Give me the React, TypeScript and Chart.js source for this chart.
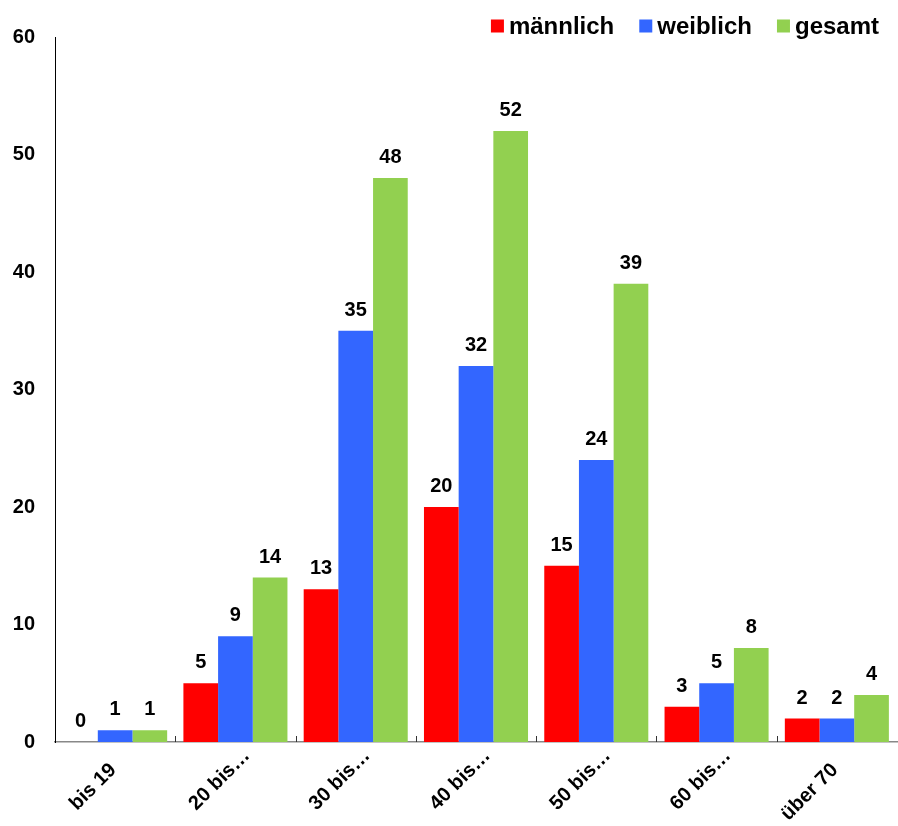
import React, { useEffect, useRef } from "react";
import { Chart, registerables } from "chart.js";

Chart.register(...registerables);

const categories = ["bis 19", "20 bis…", "30 bis…", "40 bis…", "50 bis…", "60 bis…", "über 70"];
const maennlich = [0, 5, 13, 20, 15, 3, 2];
const weiblich = [1, 9, 35, 32, 24, 5, 2];
const gesamt = [1, 14, 48, 52, 39, 8, 4];
const seriesNames = ["männlich", "weiblich", "gesamt"];
const seriesColors = ["#FF0000", "#3366FF", "#92D050"];
const yMin = 0;
const yMax = 60;
const yStep = 10;

const FONT = '"Liberation Sans", Arial, Helvetica, sans-serif';

const valueLabelPlugin = {
  id: "valueLabels",
  afterDatasetsDraw(chart: any) {
    const ctx = chart.ctx;
    ctx.save();
    ctx.font = `bold 20px ${FONT}`;
    ctx.fillStyle = "#000";
    ctx.textAlign = "center";
    ctx.textBaseline = "alphabetic";
    chart.data.datasets.forEach((ds: any, di: number) => {
      const meta = chart.getDatasetMeta(di);
      meta.data.forEach((bar: any, i: number) => {
        ctx.fillText(String(ds.data[i]), bar.x, bar.y - 15);
      });
    });
    ctx.restore();
  },
};

const xAxisPlugin = {
  id: "xAxisDecor",
  afterDraw(chart: any) {
    const ctx = chart.ctx;
    const xs = chart.scales.x;
    const bottom = chart.chartArea.bottom;
    ctx.save();
    ctx.strokeStyle = "#333";
    ctx.lineWidth = 1;
    for (let i = 1; i < categories.length; i++) {
      const bx = Math.round((xs.getPixelForValue(i - 1) + xs.getPixelForValue(i)) / 2) + 0.5;
      ctx.beginPath();
      ctx.moveTo(bx, bottom - 6);
      ctx.lineTo(bx, bottom);
      ctx.stroke();
    }
    ctx.font = `bold 20px ${FONT}`;
    ctx.fillStyle = "#000";
    ctx.textBaseline = "middle";
    categories.forEach((lab, i) => {
      const tx = xs.getPixelForValue(i);
      const truncated = lab.endsWith("…");
      ctx.save();
      if (truncated) {
        ctx.translate(tx - 43, bottom + 65);
        ctx.textAlign = "left";
      } else {
        ctx.translate(tx - 2, bottom + 25);
        ctx.textAlign = "right";
      }
      ctx.rotate(-Math.PI / 4);
      ctx.fillText(lab, 0, 0);
      ctx.restore();
    });
    ctx.restore();
  },
};

const legendPlugin = {
  id: "customLegend",
  afterDraw(chart: any) {
    const ctx = chart.ctx;
    ctx.save();
    ctx.font = `bold 24px ${FONT}`;
    ctx.textBaseline = "middle";
    ctx.textAlign = "left";
    const box = 13;
    const gapBoxText = 5;
    const gapItems = 25;
    const rightEnd = 879;
    const cy = 26;
    const widths = seriesNames.map((n) => ctx.measureText(n).width);
    let total = 0;
    widths.forEach((w, i) => {
      total += box + gapBoxText + w + (i < widths.length - 1 ? gapItems : 0);
    });
    let x = rightEnd - total;
    seriesNames.forEach((n, i) => {
      ctx.fillStyle = seriesColors[i];
      ctx.fillRect(x, cy - 6.5, box, box);
      x += box + gapBoxText;
      ctx.fillStyle = "#000";
      ctx.fillText(n, x, cy + 1);
      x += widths[i] + gapItems;
    });
    ctx.restore();
  },
};

export default function App() {
  const canvasRef = useRef<HTMLCanvasElement | null>(null);

  useEffect(() => {
    if (!canvasRef.current) return;
    const series = [maennlich, weiblich, gesamt];
    const chart = new Chart(canvasRef.current, {
      type: "bar",
      data: {
        labels: categories,
        datasets: series.map((d, i) => ({
          label: seriesNames[i],
          data: d,
          backgroundColor: seriesColors[i],
          borderWidth: 0,
          categoryPercentage: 0.865,
          barPercentage: 1,
        })),
      },
      options: {
        animation: false,
        responsive: false,
        devicePixelRatio: 1,
        layout: { padding: { top: 37, right: 1, left: 0, bottom: 0 } },
        plugins: {
          legend: { display: false },
          tooltip: { enabled: false },
          title: { display: false },
        },
        scales: {
          x: {
            grid: { display: false, drawTicks: false },
            border: { display: true, color: "#888", width: 1.5 },
            ticks: { display: false },
            afterFit: (s: any) => {
              s.height = 84;
            },
          },
          y: {
            min: yMin,
            max: yMax,
            grid: { display: false, drawTicks: false },
            border: { display: true, color: "#000", width: 1 },
            ticks: {
              stepSize: yStep,
              color: "#000",
              font: { family: FONT, size: 20, weight: "bold" },
              padding: 20,
            },
            afterFit: (s: any) => {
              s.width = 55;
            },
          },
        },
      },
      plugins: [valueLabelPlugin, xAxisPlugin, legendPlugin],
    } as any);
    return () => chart.destroy();
  }, []);

  return (
    <div style={{ position: "absolute", left: 0, top: 0, width: 898, height: 826, background: "#fff" }}>
      <canvas ref={canvasRef} width={898} height={826} style={{ display: "block", width: 898, height: 826 }} />
    </div>
  );
}
